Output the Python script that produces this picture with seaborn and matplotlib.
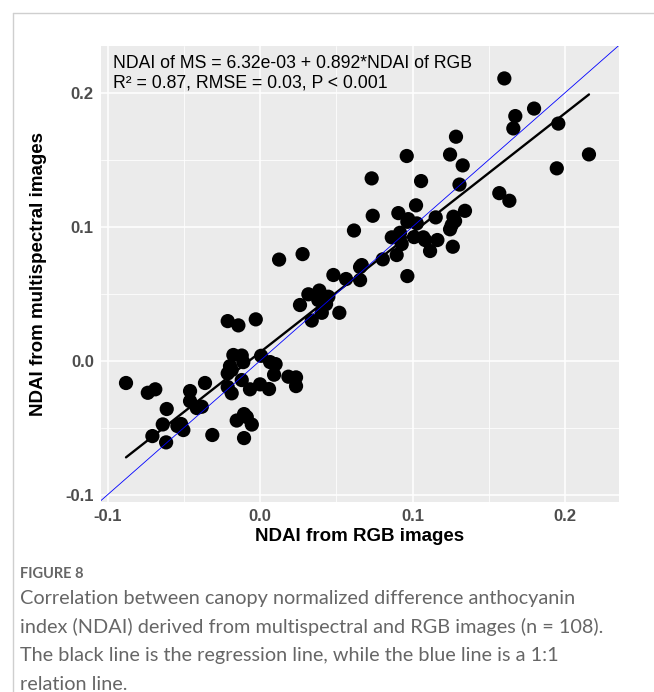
import numpy as np
import pandas as pd
import matplotlib
matplotlib.use("Agg")
import matplotlib.pyplot as plt
import seaborn as sns
from matplotlib.lines import Line2D
from matplotlib.ticker import FixedLocator

# ---------------- data ----------------
ndai_rgb = [
    -0.0879, -0.0736, -0.0687, -0.0612, -0.0638, -0.0706, -0.0616, -0.0542, -0.0503, -0.0518,
    -0.0459, -0.0459, -0.0415, -0.0382, -0.0361, -0.0313, -0.0212, -0.0142, -0.0028, -0.0175,
    -0.0120, -0.0110, -0.0197, -0.0212, -0.0186, -0.0120, -0.0212, -0.0186, -0.0066, 0.0007,
    0.0000, 0.0059, 0.0066, 0.0102, 0.0092, 0.0186, 0.0236, 0.0236, -0.0153, -0.0105,
    -0.0087, -0.0054, -0.0105, 0.0125, 0.0279, 0.0262, 0.0317, 0.0389, 0.0382, 0.0448,
    0.0433, 0.0405, 0.0520, 0.0339, 0.0481, 0.0564, 0.0656, 0.0656, 0.0616, 0.0739,
    0.0732, 0.0805, 0.0864, 0.0907, 0.0918, 0.0929, 0.0896, 0.0966, 0.1028, 0.1010,
    0.1071, 0.1163, 0.1115, 0.0966, 0.1152, 0.1056, 0.1023, 0.0962, 0.1246, 0.1285,
    0.1329, 0.1308, 0.1344, 0.1268, 0.1279, 0.1257, 0.1246, 0.1264, 0.1602, 0.1797,
    0.1674, 0.1661, 0.1956, 0.2157, 0.1946, 0.1569, 0.1635, 0.0972, 0.0667, 0.1082,
]
ndai_ms = [
    -0.0166, -0.0239, -0.0213, -0.0360, -0.0475, -0.0562, -0.0609, -0.0487, -0.0517, -0.0472,
    -0.0226, -0.0301, -0.0353, -0.0343, -0.0166, -0.0554, 0.0296, 0.0264, 0.0309, 0.0043,
    0.0039, -0.0010, -0.0040, -0.0094, -0.0069, -0.0144, -0.0196, -0.0243, -0.0213, 0.0037,
    -0.0176, -0.0211, -0.0010, -0.0025, -0.0104, -0.0119, -0.0124, -0.0189, -0.0446, -0.0398,
    -0.0420, -0.0476, -0.0577, 0.0755, 0.0796, 0.0416, 0.0496, 0.0524, 0.0453, 0.0478,
    0.0423, 0.0358, 0.0358, 0.0300, 0.0640, 0.0610, 0.0699, 0.0602, 0.0972, 0.1082,
    0.1361, 0.0757, 0.0921, 0.1102, 0.0955, 0.0871, 0.0789, 0.1037, 0.1025, 0.0923,
    0.0921, 0.0901, 0.0819, 0.0632, 0.1070, 0.1341, 0.1160, 0.1528, 0.1539, 0.1672,
    0.1458, 0.1315, 0.1119, 0.1075, 0.1043, 0.1013, 0.0981, 0.0851, 0.2107, 0.1882,
    0.1826, 0.1734, 0.1770, 0.1540, 0.1436, 0.1251, 0.1194, 0.1057, 0.0714, 0.0901,
]
fit_intercept = 6.32e-03
fit_slope = 0.892
eq_text = "NDAI of MS = 6.32e-03 + 0.892*NDAI of RGB"
stats_text = "R² = 0.87, RMSE = 0.03, P < 0.001"
x_ticks = [-0.1, 0.0, 0.1, 0.2]
y_ticks = [-0.1, 0.0, 0.1, 0.2]
x_tick_labels = ["-0.1", "0.0", "0.1", "0.2"]
y_tick_labels = ["-0.1", "0.0", "0.1", "0.2"]
x_title = "NDAI from RGB images"
y_title = "NDAI from multispectral images"
fig_label = "FIGURE 8"
caption_lines = [
    "Correlation between canopy normalized difference anthocyanin",
    "index (NDAI) derived from multispectral and RGB images (n = 108).",
    "The black line is the regression line, while the blue line is a 1:1",
    "relation line.",
]

# ---------------- styling ----------------
sns.set_theme(style="darkgrid")
plt.rcParams["font.family"] = ["Liberation Sans", "DejaVu Sans"]

W, H = 654, 692
fig = plt.figure(figsize=(W / 100, H / 100), dpi=100)
fig.patch.set_facecolor("white")

px_l, px_r, px_t, px_b = 101, 619, 46, 502
ax = fig.add_axes([px_l / W, 1 - px_b / H, (px_r - px_l) / W, (px_b - px_t) / H])
ax.set_facecolor("#EBEBEB")

df = pd.DataFrame({"rgb": ndai_rgb, "ms": ndai_ms})
sns.scatterplot(data=df, x="rgb", y="ms", ax=ax, s=105, color="black",
                edgecolor="none", linewidth=0, zorder=3, legend=False)

xs = np.array([df["rgb"].min(), df["rgb"].max()])
sns.lineplot(x=xs, y=fit_intercept + fit_slope * xs, ax=ax, color="black",
             linewidth=1.7, zorder=4)
ax.axline((0, 0), slope=1, color="#0000FF", linewidth=0.6, zorder=5)

ax.set_xlim(-0.1043, 0.2354)
ax.set_ylim(-0.1054, 0.2349)
ax.xaxis.set_major_locator(FixedLocator(x_ticks))
ax.yaxis.set_major_locator(FixedLocator(y_ticks))
ax.set_xticklabels(x_tick_labels)
ax.set_yticklabels(y_tick_labels)
ax.xaxis.set_minor_locator(FixedLocator([-0.05, 0.05, 0.15]))
ax.yaxis.set_minor_locator(FixedLocator([-0.05, 0.05, 0.15]))
ax.grid(which="major", color="white", linewidth=1.1)
ax.grid(which="minor", color="white", linewidth=0.55)
for s in ax.spines.values():
    s.set_visible(False)
ax.tick_params(axis="both", which="major", length=3.2, width=0.8, color="#333333",
               labelsize=12, labelcolor="#4D4D4D", pad=2)
ax.tick_params(axis="both", which="minor", length=0)
for lab in ax.get_xticklabels() + ax.get_yticklabels():
    lab.set_fontweight("bold")

ax.set_xlabel(x_title, fontsize=13.5, fontweight="bold", color="black", labelpad=2.5)
ax.set_ylabel(y_title, fontsize=13.5, fontweight="bold", color="black", labelpad=13)

fig.text(113 / W, 1 - 68 / H, eq_text, fontsize=12.7, color="black", va="baseline", ha="left")
fig.text(113 / W, 1 - 87 / H, stats_text, fontsize=12.7, color="black", va="baseline", ha="left")

# caption
fig.text(20 / W, 1 - 578 / H, fig_label, fontsize=10.5, color="#666666",
         family=["Lato", "DejaVu Sans"], fontweight="bold", va="baseline")
for i, line in enumerate(caption_lines):
    fig.text(20 / W, 1 - (604 + 28.5 * i) / H, line, fontsize=14.3, color="#666666",
             family=["Lato", "DejaVu Sans"], va="baseline")

# frame lines of the page card
fig.add_artist(Line2D([13 / W, 13 / W], [0, 1 - 13 / H], transform=fig.transFigure,
                      color="#CFCFCF", linewidth=1.0))
fig.add_artist(Line2D([13 / W, 1], [1 - 13 / H, 1 - 13 / H], transform=fig.transFigure,
                      color="#CFCFCF", linewidth=1.0))

fig.savefig("out.png", dpi=100)
